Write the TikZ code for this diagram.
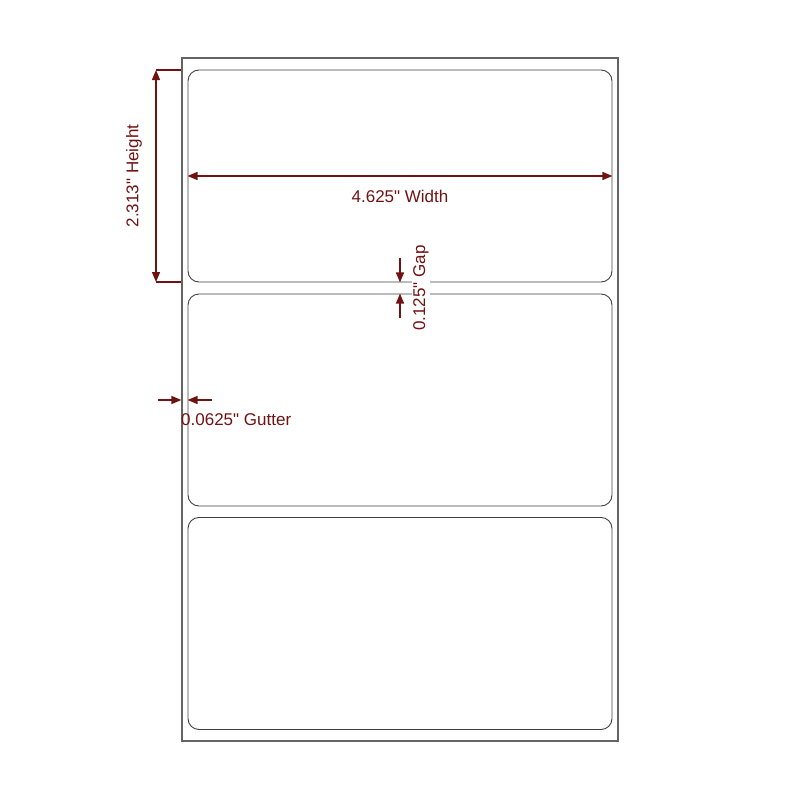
\documentclass[tikz,border=0pt]{standalone}
\usepackage{fontspec}
\setmainfont{Liberation Sans}[Ligatures=TeXOff]
\usepackage{tikz}
\usetikzlibrary{calc, positioning, arrows.meta}

\definecolor{dimred}{RGB}{112,18,18}
\definecolor{edgegray}{RGB}{100,100,100}

\begin{document}
\begin{tikzpicture}[
  x=1pt, y=-1pt,
  >={Triangle[length=10pt,width=8pt]},
  sheet/.style={
    draw=edgegray,
    line width=1.2pt,
    rectangle,
    minimum width=436pt,
    minimum height=683pt,
    inner sep=0pt
    },
  lbl/.style={
    draw=black!75,
    line width=0.9pt,
    rectangle,
    rounded corners=11pt,
    minimum width=424pt,
    minimum height=212pt,
    inner sep=0pt
    },
  dim/.style={
    draw=dimred,
    line width=1.4pt
    },
  dimtxt/.style={
    text=dimred,
    font=\fontsize{17}{20}\selectfont,
    inner sep=1pt
    }
]

\useasboundingbox (0,0) rectangle (800,800);

\node[sheet] (sheet) at (400,399.5) {};

\node[lbl] (lbl1) at (400,176) {};
\node[lbl] (lbl2) at (400,400) {};
\node[lbl] (lbl3) at (400,623.5) {};

% height
\coordinate (htop) at (156,70);
\coordinate (hbot) at (156,282);
\draw[dim] (htop) -- (htop -| sheet.west);
\draw[dim] (hbot) -- (hbot -| sheet.west);
\draw[dim,<->] (htop) -- (hbot);
\node[dimtxt, rotate=90] (htxt) at (134,176) {2.313" Height};

% width
\draw[dim,<->] (lbl1.west) -- (lbl1.east);
\node[dimtxt] (wtxt) at (400,196) {4.625" Width};

% gap
\coordinate (gtop) at (400,258);
\coordinate (gbot) at (400,318);
\draw[dim,->] (gtop) -- (lbl1.south);
\draw[dim,->] (gbot) -- (lbl2.north);
\node[dimtxt, rotate=90, fill=white] (gtxt) at (421,288) {0.125" Gap};

% gutter
\coordinate (gl) at (158,400);
\coordinate (gr) at (212,400);
\draw[dim,->] (gl) -- (gl -| sheet.west);
\draw[dim,->] (gr) -- (lbl2.west);
\node[dimtxt, anchor=west] (gutxt) at (180,420) {0.0625" Gutter};

\end{tikzpicture}
\end{document}
